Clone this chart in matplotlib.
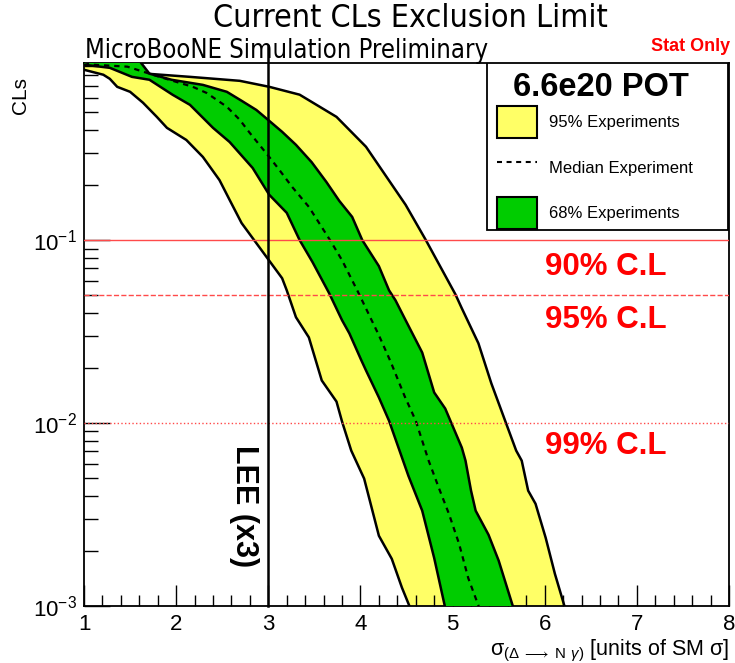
import numpy as np
import matplotlib
matplotlib.use("Agg")
import matplotlib.pyplot as plt
from matplotlib.patches import Patch, Rectangle
from matplotlib.lines import Line2D
from matplotlib.ticker import MultipleLocator, FixedLocator, LogLocator, NullFormatter

plt.rcParams['font.family'] = ['Liberation Sans', 'DejaVu Sans']
plt.rcParams['mathtext.fontset'] = 'custom'
plt.rcParams['mathtext.rm'] = 'Liberation Sans'
plt.rcParams['mathtext.it'] = 'Liberation Sans:italic'
plt.rcParams['mathtext.bf'] = 'Liberation Sans:bold'

# Bandes d'exclusion CLs (sigma en unites du SM)
x_up95 = [1.00, 1.68, 2.15, 2.69, 3.01, 3.34, 3.74, 4.06, 4.49, 4.71, 5.03, 5.10,
          5.28, 5.42, 5.57, 5.69, 5.75, 5.82, 5.90, 6.01, 6.11, 6.22]
cl_up95 = [1.0, 0.813, 0.781, 0.743, 0.689, 0.624, 0.472, 0.324, 0.156, 0.100, 0.0506, 0.0424,
           0.0273, 0.0165, 0.0103, 0.00707, 0.00623, 0.00427, 0.00362, 0.00236, 0.00150, 0.000975]

x_lo95 = [1.00, 1.21, 1.28, 1.36, 1.50, 1.64, 1.79, 1.90, 2.11, 2.29, 2.47, 2.58, 2.71,
          2.99, 3.15, 3.20, 3.30, 3.44, 3.58, 3.74, 3.80, 3.90, 4.04, 4.20, 4.34, 4.45, 4.54]
cl_lo95 = [0.854, 0.802, 0.762, 0.689, 0.647, 0.564, 0.472, 0.411, 0.353, 0.285, 0.213, 0.166, 0.124,
           0.0797, 0.0619, 0.0532, 0.0379, 0.0294, 0.0171, 0.0131, 0.0102, 0.00707, 0.00497,
           0.00242, 0.00181, 0.00126, 0.000975]

x_up68 = [1.00, 1.61, 1.71, 1.95, 2.29, 2.55, 2.71, 2.87, 3.01, 3.15, 3.30, 3.47, 3.63,
          3.77, 3.91, 4.02, 4.20, 4.31, 4.38, 4.49, 4.67, 4.80, 4.92, 5.10, 5.14, 5.20,
          5.25, 5.39, 5.50, 5.66]
cl_up68 = [1.0, 0.944, 0.813, 0.753, 0.706, 0.647, 0.578, 0.515, 0.449, 0.391, 0.332, 0.267, 0.208,
           0.164, 0.134, 0.100, 0.0721, 0.0532, 0.0469, 0.0365, 0.0243, 0.0147, 0.0120, 0.00734,
           0.00623, 0.00427, 0.00332, 0.00245, 0.00177, 0.000975]

x_lo68 = [1.00, 1.28, 1.52, 1.71, 1.96, 2.15, 2.40, 2.58, 2.83, 3.01, 3.20, 3.34, 3.48,
          3.66, 3.80, 3.88, 4.01, 4.06, 4.20, 4.31, 4.52, 4.67, 4.80, 4.92]
cl_lo68 = [0.910, 0.875, 0.781, 0.753, 0.624, 0.549, 0.411, 0.344, 0.248, 0.177, 0.141, 0.100, 0.0758,
           0.0513, 0.0365, 0.0309, 0.0220, 0.0194, 0.0138, 0.0103, 0.00515, 0.00332, 0.00183, 0.000975]

x_med = [1.00, 1.10, 1.47, 1.82, 2.18, 2.33, 2.55, 2.69, 2.80, 3.01, 3.12, 3.26, 3.44,
         3.67, 3.80, 3.98, 4.20, 4.33, 4.48, 4.60, 4.74, 4.85, 4.96, 5.07, 5.17, 5.29]
cl_med = [0.944, 0.910, 0.888, 0.781, 0.689, 0.638, 0.536, 0.455, 0.385, 0.285, 0.242, 0.195, 0.152,
          0.100, 0.0777, 0.0513, 0.0302, 0.0215, 0.0140, 0.0103, 0.00623, 0.00443, 0.00319,
          0.00219, 0.00142, 0.000975]

# Niveaux de confiance
cl_levels = [0.1, 0.05, 0.01]
cl_styles = ['-', '--', ':']
cl_labels = ['90% C.L', '95% C.L', '99% C.L']
cl_label_y = [0.0711, 0.0365, 0.00753]

lee_x = 3.0

yellow = '#ffff66'
green = '#00cc00'

fig = plt.figure(figsize=(7.35, 6.63), dpi=100)
ax = fig.add_axes([0.1143, 0.086, 0.8776, 0.819])
ax.set_yscale('log')

# Bande 95%
ax.fill(np.concatenate([x_up95, x_lo95[::-1]]), np.concatenate([cl_up95, cl_lo95[::-1]]),
        color=yellow, lw=0, zorder=1)
ax.plot(x_up95, cl_up95, color='black', lw=1.8, zorder=2)
ax.plot(x_lo95, cl_lo95, color='black', lw=1.8, zorder=2)

# Bande 68%
ax.fill(np.concatenate([x_up68, x_lo68[::-1]]), np.concatenate([cl_up68, cl_lo68[::-1]]),
        color=green, lw=0, zorder=3)
ax.plot(x_up68, cl_up68, color='black', lw=1.8, zorder=4)
ax.plot(x_lo68, cl_lo68, color='black', lw=1.8, zorder=4)

# Mediane
ax.plot(x_med, cl_med, color='black', lw=1.6, ls=(0, (2.4, 2.2)), zorder=5)

for lvl, st, lab, ty in zip(cl_levels, cl_styles, cl_labels, cl_label_y):
    ax.axhline(lvl, color='#ff4a4a', lw=1.0, ls=st, zorder=6)
    ax.text(6.0, ty, lab, color='red', fontsize=22.5, fontweight='bold', va='center', ha='left')

# Ligne LEE
ax.plot([lee_x, lee_x], [1e-3, 1.15], color='black', lw=1.8, zorder=7, clip_on=False)
ax.text(2.74, 0.00353, 'LEE (x3)', rotation=-90, fontsize=22, fontweight='bold',
        ha='center', va='center')

ax.set_xlim(1, 8)
ax.set_ylim(1e-3, 0.93)

ax.xaxis.set_major_locator(FixedLocator([1, 2, 3, 4, 5, 6, 7, 8]))
ax.xaxis.set_minor_locator(MultipleLocator(0.2))
ax.yaxis.set_major_locator(LogLocator(base=10))
ax.yaxis.set_minor_locator(LogLocator(base=10, subs=np.arange(2, 10)))
ax.yaxis.set_minor_formatter(NullFormatter())
ax.tick_params(axis='x', which='major', direction='in', length=15, width=1.0, labelsize=16, pad=6)
ax.tick_params(axis='x', which='minor', direction='in', length=8, width=1.0)
ax.tick_params(axis='y', which='major', direction='in', length=19, width=1.0, labelsize=16, pad=5)
ax.tick_params(axis='y', which='minor', direction='in', length=10, width=1.0)
for s in ax.spines.values():
    s.set_linewidth(1.3)

ax.set_xlabel(r'$\mathrm{\sigma}_{(\Delta\;\longrightarrow\;\mathrm{N}\;\,\gamma)}$ [units of SM σ]',
              fontsize=15.5)
ax.xaxis.set_label_coords(1.0, -0.058)
ax.xaxis.label.set_ha('right')
ax.set_ylabel('CLs', fontsize=15)
ax.yaxis.set_label_coords(-0.083, 0.94)

# Cadre de legende
ax.add_patch(Rectangle((0.625, 0.6925), 0.373, 0.3075, transform=ax.transAxes, facecolor='white',
                       edgecolor='black', lw=1.3, zorder=9))
ax.text(0.8016, 0.955, '6.6e20 POT', transform=ax.transAxes, fontsize=23.5, fontweight='bold',
        ha='center', va='center', zorder=11)

handles = [Patch(facecolor=yellow, edgecolor='black', lw=1.5),
           Line2D([], [], color='black', lw=1.5, ls=(0, (2.4, 2.2))),
           Patch(facecolor=green, edgecolor='black', lw=1.5)]
leg = ax.legend(handles, ['95% Experiments', 'Median Experiment', '68% Experiments'],
                loc='upper left', bbox_to_anchor=(0.640, 0.921), borderaxespad=0, borderpad=0,
                fontsize=12, frameon=False,
                handlelength=2.4, handleheight=2.58, labelspacing=0.82, handletextpad=0.7)
leg.set_zorder(10)

fig.text(0.5585, 0.972, 'Current CLs Exclusion Limit', fontsize=23, ha='center', va='center',
         family='DejaVu Sans', fontstretch='condensed')
fig.text(0.116, 0.923, 'MicroBooNE Simulation Preliminary', fontsize=18.4, ha='left', va='center',
         family='DejaVu Sans', fontstretch='condensed')
fig.text(0.994, 0.93, 'Stat Only', fontsize=13, color='red', fontweight='bold', ha='right', va='center')

plt.savefig('out.png', dpi=100)
